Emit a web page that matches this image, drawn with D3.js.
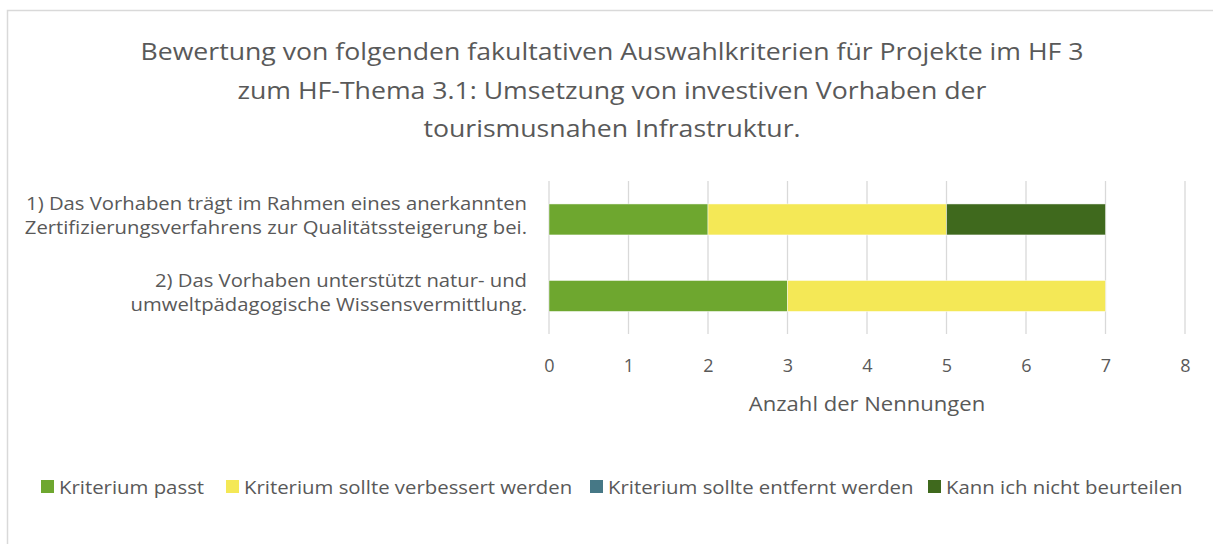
<!DOCTYPE html>
<html>
<head>
<meta charset="utf-8">
<script src="https://cdn.jsdelivr.net/npm/d3@7"></script>
<style>
  html, body { margin: 0; padding: 0; background: #fff; }
  svg { display: block; font-family: "Open Sans", Roboto, sans-serif; }
</style>
</head>
<body>
<svg id="chart" width="1213" height="544"></svg>
<script>
// Chart data
const titleLines = [
  "Bewertung von folgenden fakultativen Auswahlkriterien für Projekte im HF 3",
  "zum HF-Thema 3.1: Umsetzung von investiven Vorhaben der",
  "tourismusnahen Infrastruktur."
];
const categories = [
  ["1) Das Vorhaben trägt im Rahmen eines anerkannten", "Zertifizierungsverfahrens zur Qualitätssteigerung bei."],
  ["2) Das Vorhaben unterstützt natur- und", "umweltpädagogische Wissensvermittlung."]
];
const seriesNames = ["Kriterium passt", "Kriterium sollte verbessert werden", "Kriterium sollte entfernt werden", "Kann ich nicht beurteilen"];
const seriesColors = ["#6ea72f", "#f4e856", "#467886", "#3f691d"];
const passt = [2, 3];
const verbessert = [3, 4];
const entfernt = [0, 0];
const nichtBeurteilen = [2, 0];
const xTicks = [0, 1, 2, 3, 4, 5, 6, 7, 8];
const xTitle = "Anzahl der Nennungen";

const seriesValues = [passt, verbessert, entfernt, nichtBeurteilen];
const rows = categories.map((c, i) => {
  const r = { key: i };
  seriesNames.forEach((s, j) => { r[s] = seriesValues[j][i]; });
  return r;
});

const svg = d3.select("#chart");
const textColor = "#595959";

// Widen text glyphs by a factor (the body font runs a little wider than Open Sans)
function widen(sel, f) {
  sel.each(function () {
    const len = this.getComputedTextLength();
    if (len > 0) {
      this.setAttribute("textLength", (len * f).toFixed(1));
      this.setAttribute("lengthAdjust", "spacingAndGlyphs");
    }
  });
}

// Outer chart frame
svg.append("rect")
  .attr("x", 7.5).attr("y", 10.5)
  .attr("width", 1230).attr("height", 560)
  .attr("fill", "#fff").attr("stroke", "#d9d9d9").attr("stroke-width", 1.5);

// Title
svg.append("g").selectAll("text")
  .data(titleLines).join("text")
  .attr("x", 612).attr("y", (d, i) => 60 + i * 38.5)
  .attr("text-anchor", "middle")
  .attr("font-size", 24)
  .attr("fill", textColor)
  .text(d => d)
  .call(widen, 1.11);

// Scales
const x = d3.scaleLinear().domain([0, 8]).range([549, 1185]);
const y = d3.scaleBand().domain(rows.map(r => r.key)).range([181, 334.4]).paddingInner(0.595).paddingOuter(0.3);

// Vertical gridlines
svg.append("g").selectAll("line")
  .data(xTicks).join("line")
  .attr("x1", d => x(d)).attr("x2", d => x(d))
  .attr("y1", 181).attr("y2", 334)
  .attr("stroke", "#d9d9d9").attr("stroke-width", 1.3);

// Stacked bars
const stack = d3.stack().keys(seriesNames);
const stacked = stack(rows);
svg.append("g").selectAll("g")
  .data(stacked).join("g")
  .attr("fill", (d, i) => seriesColors[i])
  .selectAll("rect")
  .data(d => d.filter(p => p[1] - p[0] > 0)).join("rect")
  .attr("x", d => x(d[0]))
  .attr("width", d => x(d[1]) - x(d[0]))
  .attr("y", d => y(d.data.key))
  .attr("height", y.bandwidth())
  .attr("stroke", "#ffffff").attr("stroke-opacity", 0.6).attr("stroke-width", 0.8);

// X axis tick labels
const xAxis = d3.axisBottom(x).tickValues(xTicks).tickSize(0).tickPadding(0).tickFormat(d3.format("d"));
const gx = svg.append("g").attr("transform", "translate(0,359)").call(xAxis);
gx.select(".domain").remove();
gx.selectAll("text").attr("font-size", 18).attr("fill", textColor).attr("font-family", "\"Open Sans\", sans-serif");

// X axis title
svg.append("text")
  .attr("x", 867).attr("y", 411)
  .attr("text-anchor", "middle")
  .attr("font-size", 19.5).attr("fill", textColor)
  .text(xTitle)
  .call(widen, 1.13);

// Category labels
const catG = svg.append("g");
categories.forEach((lines, i) => {
  const cy = y(i) + y.bandwidth() / 2;
  lines.forEach((line, k) => {
    catG.append("text")
      .attr("x", 527)
      .attr("y", cy - 15.5 + k * 24 + 6.5)
      .attr("text-anchor", "end")
      .attr("font-size", 18)
      .attr("fill", textColor)
      .text(line)
      .call(widen, 1.125);
  });
});

// Legend
const legendX = [41, 226, 590, 928];
const lg = svg.append("g").selectAll("g")
  .data(seriesNames).join("g")
  .attr("transform", (d, i) => `translate(${legendX[i]},480)`);
lg.append("rect").attr("width", 13).attr("height", 13).attr("fill", (d, i) => seriesColors[i]);
lg.append("text").attr("x", 18).attr("y", 13.5)
  .attr("font-size", 18.5).attr("fill", textColor)
  .text(d => d)
  .call(widen, 1.1);
</script>
</body>
</html>
